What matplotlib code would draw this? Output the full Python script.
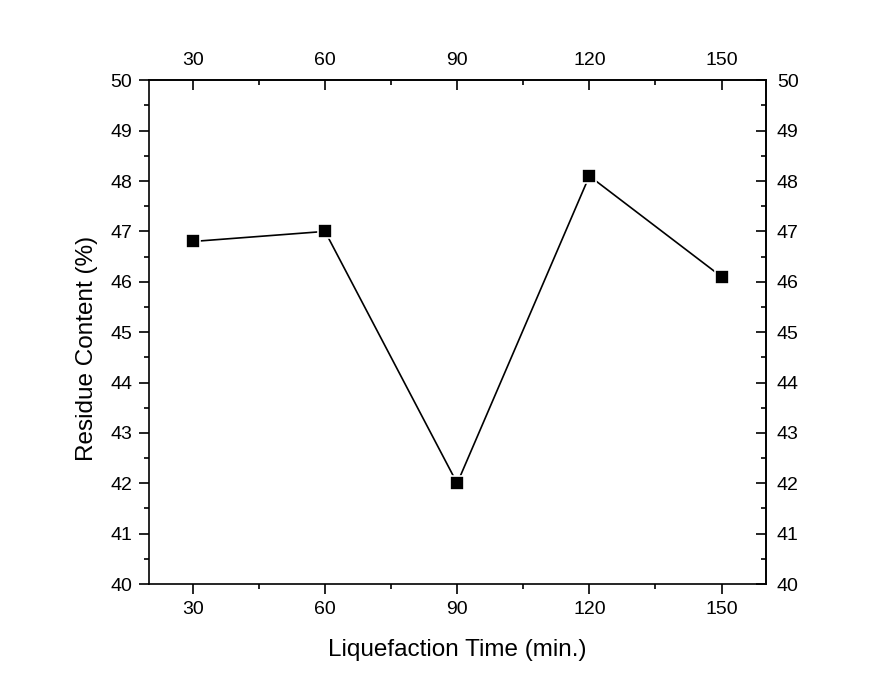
import matplotlib
matplotlib.use("Agg")
import matplotlib.pyplot as plt
from matplotlib.ticker import MultipleLocator

plt.rcParams['font.family'] = ['Liberation Sans', 'DejaVu Sans']

# data
time_min = [30, 60, 90, 120, 150]
residue = [46.8, 47.0, 42.0, 48.1, 46.1]
x_ticks = [30, 60, 90, 120, 150]

fig = plt.figure(figsize=(8.75, 6.92), dpi=100)
ax = fig.add_axes([0.170, 0.156, 0.705, 0.728])

ax.plot(time_min, residue, color='black', lw=1.2, zorder=2)
ax.plot(time_min, residue, 's', color='black', ms=9.5, mec='white', mew=1.2, zorder=3)

ax.set_xlim(20, 160)
ax.set_ylim(40, 50)
ax.set_xticks(x_ticks)
ax.xaxis.set_minor_locator(MultipleLocator(15))
ax.yaxis.set_major_locator(MultipleLocator(1))
ax.yaxis.set_minor_locator(MultipleLocator(0.5))

lw = 1.2
for s in ax.spines.values():
    s.set_linewidth(lw)

ax.tick_params(which='both', direction='out', width=lw, labelsize=14, pad=5)
ax.tick_params(which='major', length=7)
ax.tick_params(which='minor', length=3.6)

# mirrored top and right axes, ticks pointing in
top = ax.secondary_xaxis('top')
top.set_xticks(x_ticks)
top.xaxis.set_minor_locator(MultipleLocator(15))
right = ax.secondary_yaxis('right')
right.yaxis.set_major_locator(MultipleLocator(1))
right.yaxis.set_minor_locator(MultipleLocator(0.5))
for sx in (top, right):
    sx.tick_params(which='both', direction='in', width=lw, labelsize=14, pad=8)
    sx.tick_params(which='major', length=7)
    sx.tick_params(which='minor', length=3.6)
    for s in sx.spines.values():
        s.set_linewidth(lw)

ax.set_xlabel('Liquefaction Time (min.)', fontsize=17.5)
ax.set_ylabel('Residue Content (%)', fontsize=17.5)
ax.xaxis.set_label_coords(0.5, -0.110)
ax.yaxis.set_label_coords(-0.083, 0.468)

fig.savefig('out.png', dpi=100, facecolor='white')
